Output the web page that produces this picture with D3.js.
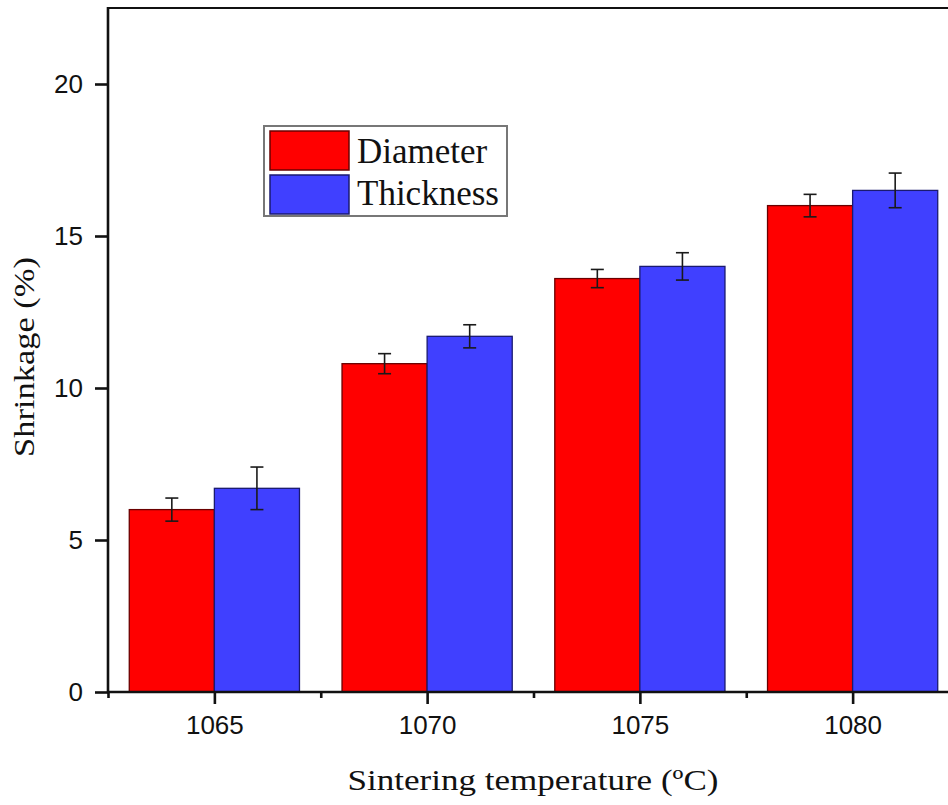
<!DOCTYPE html>
<html>
<head>
<meta charset="utf-8">
<script src="https://cdn.jsdelivr.net/npm/d3@7"></script>
<style>
  html, body { margin: 0; padding: 0; background: #fff; overflow: hidden; }
  svg { display: block; }
</style>
</head>
<body>
<script>
// ---- data ----
const categories = [1065, 1070, 1075, 1080];
const seriesNames = ["Diameter", "Thickness"];
const diameterValues = [6.0, 10.8, 13.6, 16.0];
const diameterErrors = [0.38, 0.33, 0.30, 0.37];
const thicknessValues = [6.7, 11.7, 14.0, 16.5];
const thicknessErrors = [0.70, 0.38, 0.45, 0.57];
const yTicks = [0, 5, 10, 15, 20];
const xMinorTicks = [1062.5, 1067.5, 1072.5, 1077.5, 1082.5];
const seriesColors = ["#ff0000", "#4040ff"];
const seriesStrokes = ["#6a0000", "#1a1a70"];

const W = 948, H = 805;
const margin = { left: 108, top: 8, bottom: 113 };
const svg = d3.select("body").append("svg").attr("width", W).attr("height", H);

const x = d3.scaleLinear().domain([1062.5, 1082.5]).range([margin.left, margin.left + 20 * 42.55]);
const y = d3.scaleLinear().domain([0, 22.5]).range([H - margin.bottom, margin.top]);

const series = [
  { name: seriesNames[0], values: diameterValues, errors: diameterErrors, offset: -1 },
  { name: seriesNames[1], values: thicknessValues, errors: thicknessErrors, offset: 1 }
];
const barW = 2; // in data units (°C)

// bars
series.forEach((s, si) => {
  const g = svg.append("g");
  g.selectAll("rect").data(categories).join("rect")
    .attr("x", (c) => s.offset < 0 ? x(c - barW) : x(c))
    .attr("width", () => x(1062.5 + barW) - x(1062.5))
    .attr("y", (c, i) => y(s.values[i]))
    .attr("height", (c, i) => y(0) - y(s.values[i]))
    .attr("fill", seriesColors[si])
    .attr("stroke", seriesStrokes[si])
    .attr("stroke-width", 1.3);
});

// error bars
series.forEach((s, si) => {
  const g = svg.append("g").attr("stroke", "#1a1a1a").attr("stroke-width", 1.6).attr("fill", "none");
  categories.forEach((c, i) => {
    const cx = x(c + s.offset * barW / 2);
    const yt = y(s.values[i] + s.errors[i]);
    const yb = y(s.values[i] - s.errors[i]);
    g.append("line").attr("x1", cx).attr("x2", cx).attr("y1", yt).attr("y2", yb);
    g.append("line").attr("x1", cx - 6.5).attr("x2", cx + 6.5).attr("y1", yt).attr("y2", yt);
    g.append("line").attr("x1", cx - 6.5).attr("x2", cx + 6.5).attr("y1", yb).attr("y2", yb);
  });
});

// frame: top line
svg.append("line").attr("x1", margin.left).attr("x2", W).attr("y1", margin.top).attr("y2", margin.top)
  .attr("stroke", "#111").attr("stroke-width", 2.2);

// y axis
const yAxis = d3.axisLeft(y).tickValues(yTicks).tickSize(13).tickPadding(12).tickFormat(d3.format("d"));
const gy = svg.append("g").attr("transform", `translate(${margin.left},0)`).call(yAxis);
gy.select(".domain").remove();
gy.append("line").attr("x1", 0).attr("x2", 0).attr("y1", margin.top - 1).attr("y2", y(0) + 1)
  .attr("stroke", "#111").attr("stroke-width", 2.6);
gy.selectAll(".tick line").attr("stroke", "#111").attr("stroke-width", 2.6);
gy.selectAll(".tick text").attr("fill", "#111")
  .style("font-family", "'Liberation Sans', Arial, sans-serif").style("font-size", "26px");

// x axis (major)
const xAxis = d3.axisBottom(x).tickValues(categories).tickSize(12).tickPadding(12).tickFormat(d3.format("d"));
const gx = svg.append("g").attr("transform", `translate(0,${y(0)})`).call(xAxis);
gx.select(".domain").remove();
gx.selectAll(".tick line").attr("stroke", "#111").attr("stroke-width", 2.6);
gx.selectAll(".tick text").attr("fill", "#111")
  .style("font-family", "'Liberation Sans', Arial, sans-serif").style("font-size", "26px");
// minor ticks
const xMinor = d3.axisBottom(x).tickValues(xMinorTicks).tickSize(6).tickFormat("");
const gxm = svg.append("g").attr("transform", `translate(0,${y(0)})`).call(xMinor);
gxm.select(".domain").remove();
gxm.selectAll(".tick line").attr("stroke", "#111").attr("stroke-width", 2.6);
svg.append("line").attr("x1", margin.left - 1).attr("x2", W).attr("y1", y(0)).attr("y2", y(0))
  .attr("stroke", "#111").attr("stroke-width", 2.6);

// axis titles
const serif = "'Liberation Serif', 'Times New Roman', serif";
svg.append("text")
  .attr("x", 533).attr("y", 790)
  .attr("text-anchor", "middle")
  .style("font-family", serif).style("font-size", "30px").attr("fill", "#111")
  .attr("textLength", 371).attr("lengthAdjust", "spacingAndGlyphs")
  .text("Sintering temperature (ºC)");

svg.append("text")
  .attr("transform", "translate(34,357) rotate(-90)")
  .attr("text-anchor", "middle")
  .style("font-family", serif).style("font-size", "30px").attr("fill", "#111")
  .attr("textLength", 200).attr("lengthAdjust", "spacingAndGlyphs")
  .text("Shrinkage (%)");

// legend
const lg = svg.append("g").attr("transform", "translate(264,126)");
lg.append("rect").attr("x", 0).attr("y", 0).attr("width", 243).attr("height", 90)
  .attr("fill", "#fff").attr("stroke", "#777").attr("stroke-width", 2);
series.forEach((s, si) => {
  lg.append("rect").attr("x", 6).attr("y", 5 + si * 44).attr("width", 79).attr("height", 39)
    .attr("fill", seriesColors[si]).attr("stroke", seriesStrokes[si]).attr("stroke-width", 1.5);
  lg.append("text").attr("x", 93).attr("y", 37 + si * 42)
    .style("font-family", serif).style("font-size", "35px").attr("fill", "#111")
    .text(s.name);
});
</script>
</body>
</html>
